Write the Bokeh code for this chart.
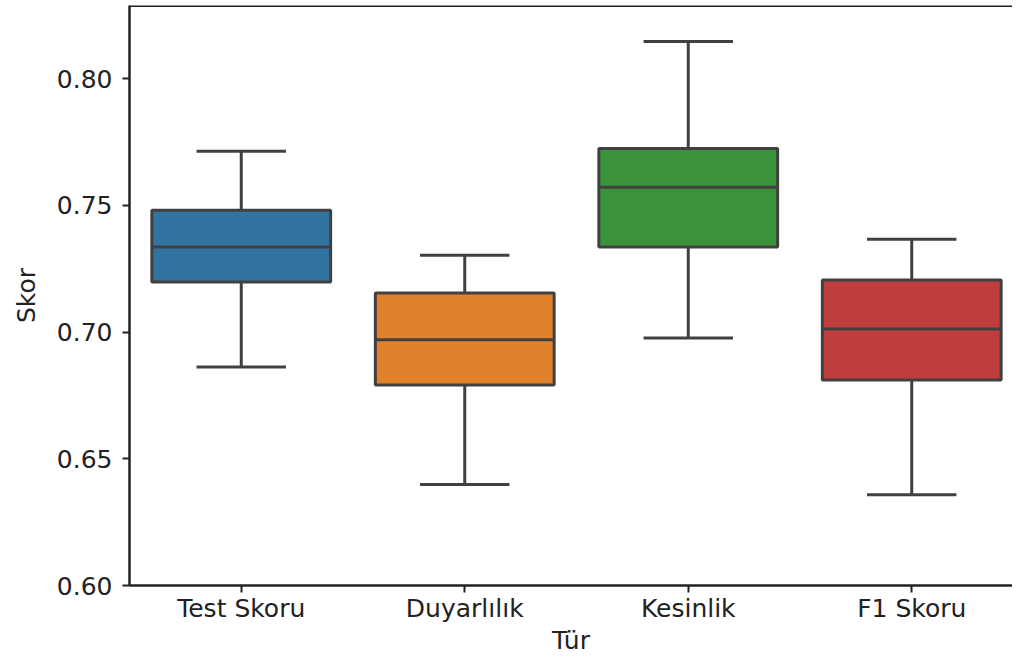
from bokeh.plotting import figure
from bokeh.models import FixedTicker, Range1d, Span, ColumnDataSource
from bokeh.embed import file_html
from bokeh.resources import INLINE

categories = ["Test Skoru", "Duyarlılık", "Kesinlik", "F1 Skoru"]
whisker_low = [0.6862, 0.6398, 0.6976, 0.6358]
q1 = [0.7197, 0.6791, 0.7335, 0.6811]
median = [0.7335, 0.6969, 0.7571, 0.7012]
q3 = [0.7480, 0.7154, 0.7724, 0.7205]
whisker_high = [0.7713, 0.7303, 0.8146, 0.7366]
colors = ["#3274a1", "#e1812c", "#3a923a", "#c03d3e"]
y_ticks = [0.60, 0.65, 0.70, 0.75, 0.80]
y_tick_labels = ["0.60", "0.65", "0.70", "0.75", "0.80"]

FONT = "DejaVu Sans"
LINE = "#404040"
BOX_W = 0.8
CAP_W = 0.4
Y_END = 0.8288

xs = list(range(len(categories)))
src = ColumnDataSource(dict(
    x=xs, q1=q1, q3=q3, med=median, lo=whisker_low, hi=whisker_high, color=colors,
    bx0=[x - BOX_W / 2 for x in xs], bx1=[x + BOX_W / 2 for x in xs],
    cx0=[x - CAP_W / 2 for x in xs], cx1=[x + CAP_W / 2 for x in xs],
))

p = figure(width=1012, height=658, output_backend="svg", toolbar_location=None,
           x_range=Range1d(-0.5, 3.4508), y_range=Range1d(0.60, Y_END),
           min_border_left=129, min_border_right=0, min_border_top=5, min_border_bottom=73)
p.outline_line_color = None
p.xgrid.visible = False
p.ygrid.visible = False
p.background_fill_color = "white"
p.border_fill_color = "white"

# whiskers
p.segment(x0="x", y0="q3", x1="x", y1="hi", source=src, line_color=LINE, line_width=3)
p.segment(x0="x", y0="q1", x1="x", y1="lo", source=src, line_color=LINE, line_width=3)
# caps
p.segment(x0="cx0", y0="hi", x1="cx1", y1="hi", source=src, line_color=LINE, line_width=3)
p.segment(x0="cx0", y0="lo", x1="cx1", y1="lo", source=src, line_color=LINE, line_width=3)
# boxes
p.vbar(x="x", width=BOX_W, top="q3", bottom="q1", source=src, fill_color="color",
       line_color=LINE, line_width=3)
# medians
p.segment(x0="bx0", y0="med", x1="bx1", y1="med", source=src, line_color=LINE, line_width=3)

# top spine
p.add_layout(Span(location=Y_END, dimension="width", line_color="#222222", line_width=3))

p.xaxis.ticker = FixedTicker(ticks=xs)
p.xaxis.major_label_overrides = {i: c for i, c in enumerate(categories)}
p.yaxis.ticker = FixedTicker(ticks=y_ticks)
p.yaxis.major_label_overrides = {t: l for t, l in zip(y_ticks, y_tick_labels)}

for ax in (p.xaxis[0], p.yaxis[0]):
    ax.axis_line_color = "#222222"
    ax.axis_line_width = 2.5
    ax.major_tick_line_color = "#222222"
    ax.major_tick_line_width = 2
    ax.major_tick_out = 7
    ax.major_tick_in = 0
    ax.minor_tick_line_color = None
    ax.major_label_text_font = FONT
    ax.major_label_text_font_size = "25px"
    ax.major_label_text_color = "#222222"
    ax.axis_label_text_font = FONT
    ax.axis_label_text_font_size = "25px"
    ax.axis_label_text_font_style = "normal"
    ax.axis_label_text_color = "#222222"

p.xaxis.axis_label = "Tür"
p.yaxis.axis_label = "Skor"
p.xaxis.major_label_standoff = 1
p.yaxis.major_label_standoff = 10
p.xaxis.axis_label_standoff = 0
p.yaxis.axis_label_standoff = 13

open("out.html", "w").write(file_html(p, INLINE))
